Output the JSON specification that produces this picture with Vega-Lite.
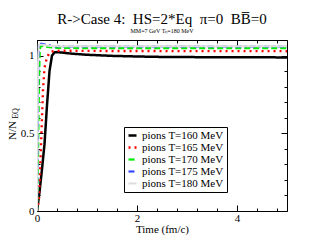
{
  "$schema": "https://vega.github.io/schema/vega-lite/v6.json",
  "width": 250,
  "height": 171,
  "autosize": {"type": "none"},
  "padding": {"left": 37, "top": 40, "right": 36, "bottom": 38},
  "background": "white",
  "config": {
    "view": {"stroke": "black", "strokeWidth": 1},
    "font": "Liberation Serif",
    "axis": {"domain": false, "tickColor": "black", "tickWidth": 1, "labelColor": "black", "titleColor": "black", "labelFont": "Liberation Serif", "titleFont": "Liberation Serif", "labelFontSize": 11, "titleFontSize": 11, "titleFontWeight": "normal", "grid": false, "labelOverlap": false, "labelFlush": false}
  },
  "title": {
    "text": "R->Case 4:\u00a0 HS=2*Eq\u00a0 π=0\u00a0 BB̅=0",
    "subtitle": "MM=7 GeV Tₕ=180 MeV",
    "font": "Liberation Serif",
    "fontSize": 15,
    "fontWeight": "normal",
    "subtitleFont": "Liberation Serif",
    "subtitleFontSize": 6,
    "subtitlePadding": 1,
    "anchor": "middle",
    "offset": 6,
    "color": "black"
  },
  "data": {
    "values": [
      {"s": "pions T=160 MeV", "t": 0, "n": 0},
      {"s": "pions T=160 MeV", "t": 0.05, "n": 0.12},
      {"s": "pions T=160 MeV", "t": 0.1, "n": 0.27},
      {"s": "pions T=160 MeV", "t": 0.15, "n": 0.43},
      {"s": "pions T=160 MeV", "t": 0.2, "n": 0.68},
      {"s": "pions T=160 MeV", "t": 0.25, "n": 0.9},
      {"s": "pions T=160 MeV", "t": 0.3, "n": 1.0},
      {"s": "pions T=160 MeV", "t": 0.35, "n": 1.02},
      {"s": "pions T=160 MeV", "t": 0.4, "n": 1.022},
      {"s": "pions T=160 MeV", "t": 0.5, "n": 1.019},
      {"s": "pions T=160 MeV", "t": 0.7, "n": 1.012},
      {"s": "pions T=160 MeV", "t": 1.0, "n": 1.005},
      {"s": "pions T=160 MeV", "t": 1.5, "n": 0.998},
      {"s": "pions T=160 MeV", "t": 2.0, "n": 0.994},
      {"s": "pions T=160 MeV", "t": 2.5, "n": 0.991},
      {"s": "pions T=160 MeV", "t": 3.0, "n": 0.99},
      {"s": "pions T=160 MeV", "t": 4.0, "n": 0.989},
      {"s": "pions T=160 MeV", "t": 5.0, "n": 0.988},
      {"s": "pions T=165 MeV", "t": 0, "n": 0},
      {"s": "pions T=165 MeV", "t": 0.04, "n": 0.08},
      {"s": "pions T=165 MeV", "t": 0.08, "n": 0.42},
      {"s": "pions T=165 MeV", "t": 0.12, "n": 0.78},
      {"s": "pions T=165 MeV", "t": 0.15, "n": 0.92},
      {"s": "pions T=165 MeV", "t": 0.2, "n": 0.99},
      {"s": "pions T=165 MeV", "t": 0.26, "n": 1.022},
      {"s": "pions T=165 MeV", "t": 0.35, "n": 1.03},
      {"s": "pions T=165 MeV", "t": 0.5, "n": 1.031},
      {"s": "pions T=165 MeV", "t": 1.0, "n": 1.03},
      {"s": "pions T=165 MeV", "t": 2.0, "n": 1.029},
      {"s": "pions T=165 MeV", "t": 5.0, "n": 1.028},
      {"s": "pions T=170 MeV", "t": 0, "n": 0},
      {"s": "pions T=170 MeV", "t": 0.02, "n": 0.35},
      {"s": "pions T=170 MeV", "t": 0.04, "n": 0.85},
      {"s": "pions T=170 MeV", "t": 0.055, "n": 1.03},
      {"s": "pions T=170 MeV", "t": 0.07, "n": 1.062},
      {"s": "pions T=170 MeV", "t": 0.1, "n": 1.062},
      {"s": "pions T=170 MeV", "t": 0.2, "n": 1.055},
      {"s": "pions T=170 MeV", "t": 0.4, "n": 1.05},
      {"s": "pions T=170 MeV", "t": 1.0, "n": 1.048},
      {"s": "pions T=170 MeV", "t": 5.0, "n": 1.047},
      {"s": "pions T=175 MeV", "t": 0, "n": 0},
      {"s": "pions T=175 MeV", "t": 0.01, "n": 0.4},
      {"s": "pions T=175 MeV", "t": 0.025, "n": 0.95},
      {"s": "pions T=175 MeV", "t": 0.04, "n": 1.075},
      {"s": "pions T=175 MeV", "t": 0.1, "n": 1.075},
      {"s": "pions T=175 MeV", "t": 0.2, "n": 1.068},
      {"s": "pions T=175 MeV", "t": 0.35, "n": 1.06},
      {"s": "pions T=175 MeV", "t": 0.6, "n": 1.058},
      {"s": "pions T=175 MeV", "t": 1.0, "n": 1.058},
      {"s": "pions T=175 MeV", "t": 5.0, "n": 1.058},
      {"s": "pions T=180 MeV", "t": 0, "n": 0},
      {"s": "pions T=180 MeV", "t": 0.01, "n": 0.45},
      {"s": "pions T=180 MeV", "t": 0.02, "n": 0.95},
      {"s": "pions T=180 MeV", "t": 0.035, "n": 1.07},
      {"s": "pions T=180 MeV", "t": 0.1, "n": 1.07},
      {"s": "pions T=180 MeV", "t": 0.25, "n": 1.062},
      {"s": "pions T=180 MeV", "t": 0.5, "n": 1.06},
      {"s": "pions T=180 MeV", "t": 5.0, "n": 1.06}
    ]
  },
  "resolve": {"axis": {"x": "independent", "y": "independent"}},
  "layer": [
    {
      "mark": {"type": "line", "opacity": 0},
      "encoding": {
        "x": {"field": "t", "type": "quantitative", "scale": {"domain": [0, 5], "nice": false, "zero": false},
          "axis": {"orient": "bottom", "values": [0.4, 0.8, 1.2, 1.6, 2.4, 2.8, 3.2, 3.6, 4.4, 4.8], "tickSize": -3, "labels": false, "title": null}},
        "y": {"field": "n", "type": "quantitative", "scale": {"domain": [0, 1.1], "nice": false},
          "axis": {"orient": "left", "values": [0.1, 0.2, 0.3, 0.4, 0.6, 0.7, 0.8, 0.9, 1.1], "tickSize": -3, "labels": false, "title": null}},
        "detail": {"field": "s"}
      }
    },
    {
      "mark": {"type": "line", "opacity": 0},
      "encoding": {
        "x": {"field": "t", "type": "quantitative", "axis": {"orient": "top", "values": [0.4, 0.8, 1.2, 1.6, 2.4, 2.8, 3.2, 3.6, 4.4, 4.8], "tickSize": -3, "labels": false, "title": null}},
        "y": {"field": "n", "type": "quantitative", "axis": {"orient": "right", "values": [0.1, 0.2, 0.3, 0.4, 0.6, 0.7, 0.8, 0.9, 1.1], "tickSize": -3, "labels": false, "title": null}},
        "detail": {"field": "s"}
      }
    },
    {
      "mark": {"type": "line", "opacity": 0},
      "encoding": {
        "x": {"field": "t", "type": "quantitative", "axis": {"orient": "top", "values": [0, 2, 4], "tickSize": -6, "labels": false, "title": null}},
        "y": {"field": "n", "type": "quantitative", "axis": {"orient": "right", "values": [0, 0.5, 1], "tickSize": -6, "labels": false, "title": null}},
        "detail": {"field": "s"}
      }
    },
    {
      "mark": {"type": "line", "strokeCap": "butt", "clip": true},
      "encoding": {
        "x": {"field": "t", "type": "quantitative",
          "axis": {"orient": "bottom", "values": [0, 2, 4], "format": "~g", "tickSize": -6, "labelPadding": 7, "title": "Time (fm/c)", "titlePadding": 0}},
        "y": {"field": "n", "type": "quantitative",
          "axis": {"orient": "left", "values": [0, 0.5, 1], "format": "~g", "tickSize": -6, "labelPadding": 9, "title": "N/N", "titleAngle": 270, "titleBaseline": "middle", "titleAlign": "center", "titleX": -25, "titleY": 90}},
        "color": {"field": "s", "type": "nominal",
          "scale": {"domain": ["pions T=160 MeV", "pions T=165 MeV", "pions T=170 MeV", "pions T=175 MeV", "pions T=180 MeV"],
                    "range": ["#000000", "#ff0000", "#00ee00", "#3344ff", "#dddddd"]},
          "legend": {"title": null, "orient": "none", "legendX": 87, "legendY": 87, "strokeColor": "#000000", "fillColor": "white", "padding": 3, "cornerRadius": 0, "labelFont": "Liberation Serif", "labelFontSize": 11, "labelColor": "black", "symbolType": "stroke", "symbolSize": 64, "rowPadding": 0, "labelOffset": 4}},
        "strokeDash": {"field": "s", "type": "nominal",
          "scale": {"domain": ["pions T=160 MeV", "pions T=165 MeV", "pions T=170 MeV", "pions T=175 MeV", "pions T=180 MeV"],
                    "range": [[1, 0], [2, 4], [6, 3], [6, 3, 2, 3], [1, 0]]}, "legend": null},
        "strokeWidth": {"field": "s", "type": "nominal",
          "scale": {"domain": ["pions T=160 MeV", "pions T=165 MeV", "pions T=170 MeV", "pions T=175 MeV", "pions T=180 MeV"],
                    "range": [2.5, 2, 1.5, 1.5, 1]}, "legend": null},
        "order": {"field": "t", "type": "quantitative"}
      }
    },
    {
      "data": {"values": [{"label": "EQ"}]},
      "mark": {"type": "text", "angle": 270, "align": "center", "baseline": "middle", "font": "Liberation Serif", "fontSize": 8, "clip": false, "color": "black"},
      "encoding": {
        "text": {"field": "label"},
        "x": {"datum": -0.43, "type": "quantitative", "axis": null},
        "y": {"datum": 0.627, "type": "quantitative", "axis": null}
      }
    }
  ]
}
